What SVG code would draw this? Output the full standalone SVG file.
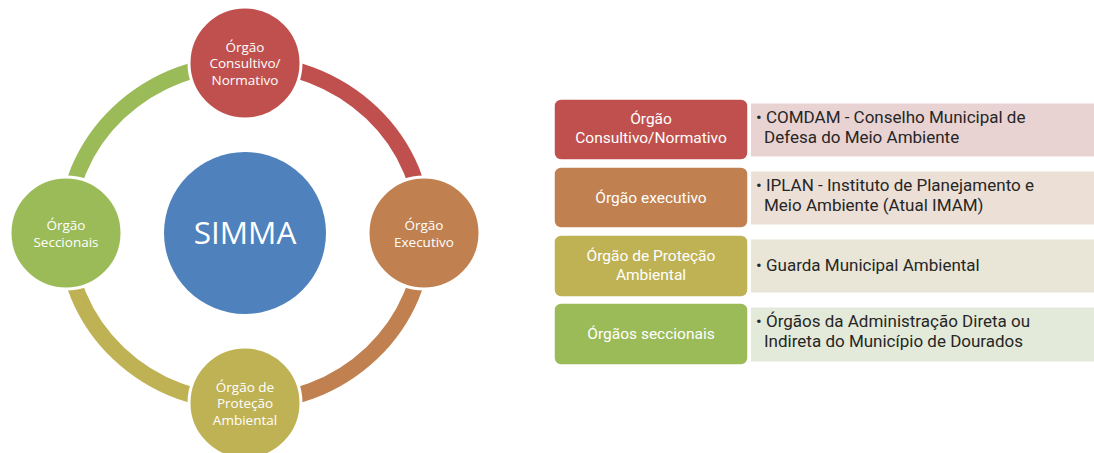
<svg xmlns="http://www.w3.org/2000/svg" width="1094" height="453" viewBox="0 0 1094 453">
<style>
.ring{fill:none;stroke-width:16}
.node{stroke:#fff;stroke-width:3}
.ct{font-family:"Open Sans","Liberation Sans",sans-serif;font-size:13.5px;fill:#fff;text-anchor:middle}
.big{font-family:"Open Sans","Liberation Sans",sans-serif;font-size:31.5px;fill:#fff;text-anchor:middle}
.dt{font-family:Roboto,"Liberation Sans",sans-serif;font-size:15.5px;fill:#fff;text-anchor:middle}
.lt{font-family:Roboto,"Liberation Sans",sans-serif;font-size:17px;fill:#262626}
</style>
<rect width="1094" height="453" fill="#fff"/>
<g id="connectors">
<path class="ring" stroke="#C0504D" d="M245 63 A179 170 0 0 1 424 233"/>
<path class="ring" stroke="#C0804F" d="M424 233 A179 170 0 0 1 245 403"/>
<path class="ring" stroke="#BFB254" d="M245 403 A179 170 0 0 1 66 233"/>
<path class="ring" stroke="#9BBB59" d="M66 233 A179 170 0 0 1 245 63"/>
</g>
<g id="simma">
<circle cx="245" cy="233" r="81" fill="#4F81BD"/>
<text class="big" x="245" y="244">SIMMA</text>
</g>
<g id="node-consultivo">
<circle class="node" cx="245" cy="63" r="56" fill="#C0504D"/>
<text class="ct" x="245" y="51.5">Órgão</text>
<text class="ct" x="245" y="68">Consultivo/</text>
<text class="ct" x="245" y="85">Normativo</text>
</g>
<g id="node-executivo">
<circle class="node" cx="424" cy="233" r="56" fill="#C0804F"/>
<text class="ct" x="424" y="229.5">Órgão</text>
<text class="ct" x="424" y="246.5">Executivo</text>
</g>
<g id="node-protecao">
<circle class="node" cx="245" cy="403" r="56" fill="#BFB254"/>
<text class="ct" x="245" y="391.5">Órgão de</text>
<text class="ct" x="245" y="408">Proteção</text>
<text class="ct" x="245" y="424.5">Ambiental</text>
</g>
<g id="node-seccionais">
<circle class="node" cx="66" cy="233" r="56" fill="#9BBB59"/>
<text class="ct" x="66" y="229.5">Órgão</text>
<text class="ct" x="66" y="246.5">Seccionais</text>
</g>
<g id="row1">
<rect x="751" y="103.5" width="343" height="53" fill="#E9D3D2"/>
<rect x="554" y="99" width="194" height="61" rx="7" fill="#C0504D" stroke="#fff" stroke-width="1.5"/>
<text class="dt" x="651" y="124">Órgão</text>
<text class="dt" x="651" y="143">Consultivo/Normativo</text>
<text class="lt" x="756" y="123">• COMDAM - Conselho Municipal de</text>
<text class="lt" x="764" y="143">Defesa do Meio Ambiente</text>
</g>
<g id="row2">
<rect x="751" y="171.5" width="343" height="53" fill="#ECDFD5"/>
<rect x="554" y="167" width="194" height="61" rx="7" fill="#C0804F" stroke="#fff" stroke-width="1.5"/>
<text class="dt" x="651" y="202.5">Órgão executivo</text>
<text class="lt" x="756" y="190.5">• IPLAN - Instituto de Planejamento e</text>
<text class="lt" x="764" y="210.5">Meio Ambiente (Atual IMAM)</text>
</g>
<g id="row3">
<rect x="751" y="239.5" width="343" height="53" fill="#E9E6D8"/>
<rect x="554" y="235" width="194" height="62" rx="7" fill="#BFB254" stroke="#fff" stroke-width="1.5"/>
<text class="dt" x="651" y="261">Órgão de Proteção</text>
<text class="dt" x="651" y="280">Ambiental</text>
<text class="lt" x="756" y="271">• Guarda Municipal Ambiental</text>
</g>
<g id="row4">
<rect x="751" y="307.5" width="343" height="54" fill="#E4EAD9"/>
<rect x="554" y="303" width="194" height="62" rx="7" fill="#9BBB59" stroke="#fff" stroke-width="1.5"/>
<text class="dt" x="651" y="339">Órgãos seccionais</text>
<text class="lt" x="756" y="326.5">• Órgãos da Administração Direta ou</text>
<text class="lt" x="764" y="346.5">Indireta do Município de Dourados</text>
</g>
</svg>
